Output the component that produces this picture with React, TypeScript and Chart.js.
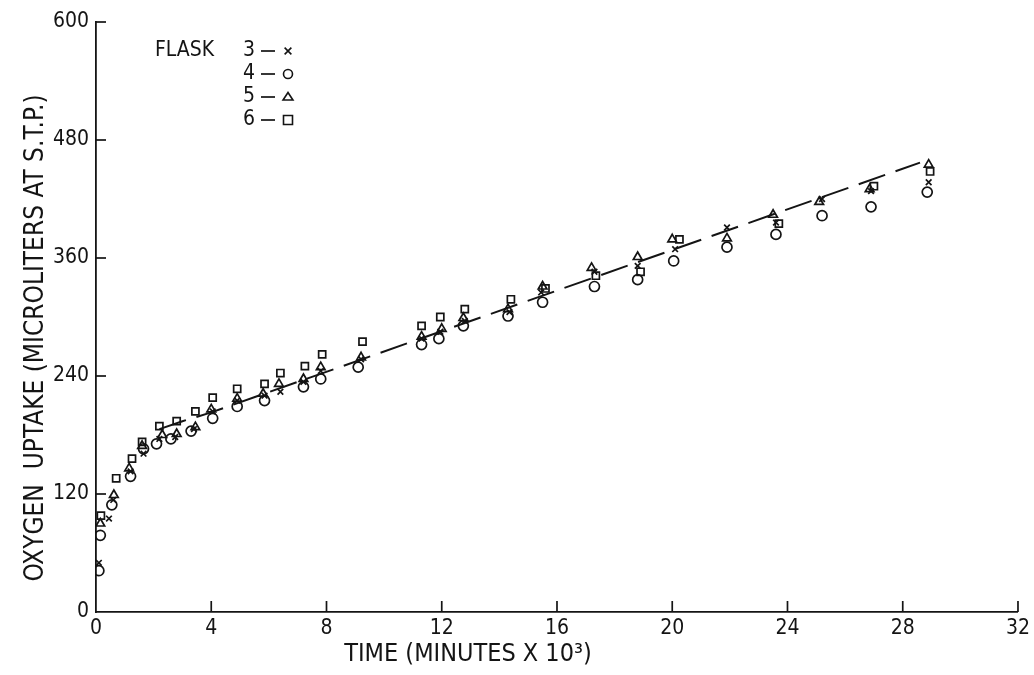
import React, { useEffect, useRef } from 'react';
import { Chart, registerables } from 'chart.js';

Chart.register(...registerables);

// ---- data (time in minutes x 10^3, oxygen uptake in microliters at S.T.P.) ----
const FLASK_LABELS = ['3', '4', '5', '6'];
const FLASK_STYLES = ['crossRot', 'circle', 'triangle', 'rect'];

const FLASK3_T = [0.1, 0.45, 0.6, 1.2, 1.65, 2.2, 2.75, 3.4, 4.05, 4.9, 5.85, 6.4, 7.2, 7.8, 9.2, 11.3, 11.95, 12.8, 14.35, 15.45, 17.3, 18.8, 20.1, 21.9, 23.6, 25.2, 26.9, 28.9];
const FLASK3_V = [50, 95, 114, 143, 161, 176, 178, 186, 204, 215, 220, 224, 234, 245, 257, 278, 285, 296, 305, 325, 346, 352, 369, 391, 396, 420, 428, 437];

const FLASK4_T = [0.1, 0.15, 0.55, 1.2, 1.65, 2.1, 2.6, 3.3, 4.05, 4.9, 5.85, 7.2, 7.8, 9.1, 11.3, 11.9, 12.75, 14.3, 15.5, 17.3, 18.8, 20.05, 21.9, 23.6, 25.2, 26.9, 28.85];
const FLASK4_V = [42, 78, 109, 138, 166, 171, 176, 184, 197, 209, 215, 229, 237, 249, 272, 278, 291, 301, 315, 331, 338, 357, 371, 384, 403, 412, 427];

const FLASK5_T = [0.15, 0.62, 1.15, 1.6, 2.3, 2.8, 3.45, 4.0, 4.9, 5.8, 6.35, 7.2, 7.8, 9.2, 11.3, 12.0, 12.75, 14.3, 15.5, 17.2, 18.8, 20.0, 21.9, 23.5, 25.1, 26.85, 28.9];
const FLASK5_V = [90, 119, 146, 169, 180, 181, 188, 206, 217, 222, 232, 237, 249, 259, 280, 288, 299, 308, 331, 350, 361, 379, 380, 404, 417, 430, 455];

const FLASK6_T = [0.17, 0.7, 1.25, 1.6, 2.2, 2.8, 3.45, 4.05, 4.9, 5.85, 6.4, 7.25, 7.85, 9.25, 11.3, 11.95, 12.8, 14.4, 15.6, 17.35, 18.9, 20.25, 23.7, 27.0, 28.95];
const FLASK6_V = [98, 136, 156, 173, 189, 194, 204, 218, 227, 232, 243, 250, 262, 275, 291, 300, 308, 318, 329, 342, 346, 379, 395, 433, 448];

// hand-drawn trend line
const FIT_T = [2.2, 3.0, 4.0, 28.6];
const FIT_V = [186, 194, 203, 457];

const X_MIN = 0, X_MAX = 32, X_STEP = 4;
const Y_MIN = 0, Y_MAX = 600, Y_STEP = 120;

const X_TITLE = 'TIME (MINUTES X 10³)';
const Y_TITLE = 'OXYGEN  UPTAKE (MICROLITERS AT S.T.P.)';
const LEGEND_TITLE = 'FLASK';

const INK = '#141414';
const FONT = '"DejaVu Sans Condensed", "DejaVu Sans", sans-serif';

function drawMarker(ctx: CanvasRenderingContext2D, style: string, x: number, y: number, r: number) {
  ctx.beginPath();
  if (style === 'circle') {
    ctx.arc(x, y, r, 0, Math.PI * 2);
  } else if (style === 'rect') {
    ctx.rect(x - r, y - r, 2 * r, 2 * r);
  } else if (style === 'triangle') {
    const h = r * 1.5;
    ctx.moveTo(x, y - h * 0.66);
    ctx.lineTo(x + r * 1.1, y + h * 0.44);
    ctx.lineTo(x - r * 1.1, y + h * 0.44);
    ctx.closePath();
  } else {
    const d = r * 0.75;
    ctx.moveTo(x - d, y - d); ctx.lineTo(x + d, y + d);
    ctx.moveTo(x + d, y - d); ctx.lineTo(x - d, y + d);
  }
  ctx.stroke();
}

const decor = {
  id: 'decor',
  afterDraw(chart: any) {
    const { ctx, chartArea: a, scales } = chart;
    const xs = scales.x, ys = scales.y;
    ctx.save();
    ctx.strokeStyle = INK;
    ctx.fillStyle = INK;
    ctx.lineWidth = 1.7;
    // inward tick marks
    xs.ticks.forEach((t: any) => {
      if (t.value === X_MIN) return;
      const px = xs.getPixelForValue(t.value);
      ctx.beginPath(); ctx.moveTo(px, a.bottom); ctx.lineTo(px, a.bottom - 11); ctx.stroke();
    });
    ys.ticks.forEach((t: any) => {
      if (t.value === Y_MIN) return;
      const py = ys.getPixelForValue(t.value);
      ctx.beginPath(); ctx.moveTo(a.left, py); ctx.lineTo(a.left + 10, py); ctx.stroke();
    });
    // legend
    ctx.font = `21px ${FONT}`;
    ctx.textBaseline = 'middle';
    ctx.textAlign = 'left';
    ctx.fillText(LEGEND_TITLE, 155, 51);
    FLASK_LABELS.forEach((lab, i) => {
      const yy = 51 + i * 23;
      ctx.fillText(lab, 243, yy);
      ctx.lineWidth = 1.7;
      ctx.beginPath(); ctx.moveTo(261, yy); ctx.lineTo(275, yy); ctx.stroke();
      ctx.lineWidth = 1.6;
      drawMarker(ctx, FLASK_STYLES[i], 288, yy, 4.5);
    });
    // axis titles
    ctx.font = `25px ${FONT}`;
    ctx.textAlign = 'center';
    ctx.textBaseline = 'middle';
    ctx.fillText(X_TITLE, 468, 654);
    ctx.font = `26px ${FONT}`;
    ctx.translate(36, 338);
    ctx.rotate(-Math.PI / 2);
    ctx.fillText(Y_TITLE, 0, 0);
    ctx.restore();
  },
};

const pts = (ts: number[], vs: number[]) => ts.map((t, i) => ({ x: t, y: vs[i] }));

export default function App() {
  const ref = useRef<HTMLCanvasElement>(null);
  useEffect(() => {
    document.body.style.margin = '0';
    const canvas = ref.current!;
    const flaskSet = (i: number, ts: number[], vs: number[]) => ({
      label: 'Flask ' + FLASK_LABELS[i],
      data: pts(ts, vs),
      pointStyle: FLASK_STYLES[i],
      pointRadius: FLASK_STYLES[i] === 'crossRot' ? 4 : 5,
      borderColor: INK,
      backgroundColor: 'rgba(0,0,0,0)',
      borderWidth: 1.7,
      showLine: false,
    });
    const chart = new Chart(canvas, {
      type: 'scatter',
      data: {
        datasets: [
          {
            type: 'line',
            label: 'Trend',
            data: pts(FIT_T, FIT_V),
            borderColor: INK,
            borderWidth: 2,
            borderDash: [28, 11],
            pointRadius: 0,
            fill: false,
            tension: 0,
            showLine: true,
          } as any,
          flaskSet(0, FLASK3_T, FLASK3_V),
          flaskSet(1, FLASK4_T, FLASK4_V),
          flaskSet(2, FLASK5_T, FLASK5_V),
          flaskSet(3, FLASK6_T, FLASK6_V),
        ],
      },
      options: {
        responsive: false,
        animation: false,
        layout: { padding: { top: 22, right: 12, left: 0, bottom: 0 } },
        plugins: { legend: { display: false }, tooltip: { enabled: false }, title: { display: false } },
        scales: {
          x: {
            type: 'linear',
            min: X_MIN,
            max: X_MAX,
            ticks: { stepSize: X_STEP, color: INK, font: { family: FONT, size: 21 }, padding: 4, maxRotation: 0 },
            grid: { display: false, drawTicks: false },
            border: { display: true, color: INK, width: 1.8 },
            afterFit: (s: any) => { s.height = 63; },
          },
          y: {
            type: 'linear',
            min: Y_MIN,
            max: Y_MAX,
            ticks: { stepSize: Y_STEP, color: INK, font: { family: FONT, size: 21 }, padding: 7 },
            grid: { display: false, drawTicks: false },
            border: { display: true, color: INK, width: 1.8 },
            afterFit: (s: any) => { s.width = 96; },
          },
        },
      },
      plugins: [decor],
    } as any);
    return () => chart.destroy();
  }, []);
  return <canvas ref={ref} width={1034} height={675} style={{ display: 'block' }} />;
}
